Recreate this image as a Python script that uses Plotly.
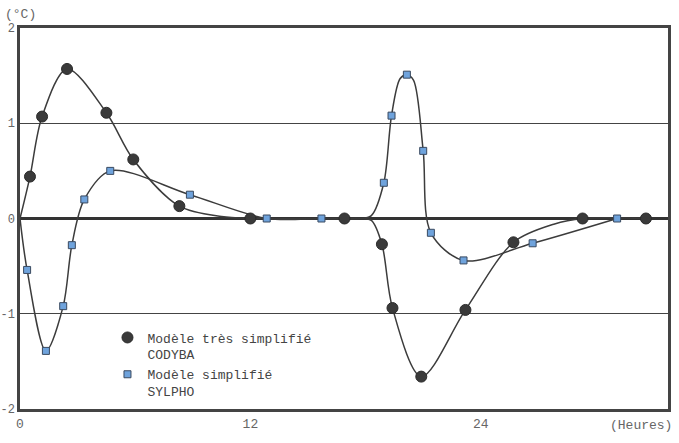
import plotly.graph_objects as go

# Marker points
cody_x = [0.52, 1.15, 2.45, 4.5, 5.9, 8.3, 12.0, 16.9, 18.85, 19.4, 20.9, 23.2, 25.7, 29.3, 32.6]
cody_y = [0.44, 1.07, 1.57, 1.11, 0.62, 0.13, 0.0, 0.0, -0.27, -0.94, -1.66, -0.96, -0.25, 0.0, 0.0]
syl_x = [0.37, 1.35, 2.25, 2.7, 3.35, 4.7, 8.85, 12.85, 15.7, 18.95, 19.35, 20.15, 21.0, 21.4, 23.1, 26.7, 31.1]
syl_y = [-0.54, -1.39, -0.92, -0.28, 0.2, 0.5, 0.25, 0.0, 0.0, 0.375, 1.08, 1.51, 0.71, -0.15, -0.44, -0.26, 0.0]

# Curve knots (markers plus shape points)
cody_cx = [0, 0.52, 1.15, 2.45, 4.5, 5.9, 8.3, 10.5, 12.0, 16.9, 17.8, 18.3, 18.85, 19.4, 20.9, 23.2, 25.7, 27.8, 29.3, 32.6]
cody_cy = [0, 0.44, 1.07, 1.57, 1.11, 0.62, 0.13, 0.02, 0.0, 0.0, 0.0, -0.02, -0.27, -0.94, -1.66, -0.96, -0.25, -0.06, 0.0, 0.0]
syl_cx = [0, 0.37, 1.35, 2.25, 2.7, 3.35, 4.7, 8.85, 12.85, 15.7, 17.8, 18.3, 18.95, 19.35, 19.8, 20.15, 20.5, 21.0, 21.4, 23.1, 26.7, 31.1]
syl_cy = [0, -0.54, -1.39, -0.92, -0.28, 0.2, 0.5, 0.25, 0.0, 0.0, 0.0, 0.03, 0.375, 1.08, 1.47, 1.51, 1.45, 0.71, -0.15, -0.44, -0.26, 0.0]

x_ticks = [0, 12, 24]
y_ticks = [-2, -1, 0, 1, 2]
names = ["Modèle très simplifié<br>CODYBA", "Modèle simplifié<br>SYLPHO"]

LINE = "#3c3c3c"
FONT = "Liberation Mono"

fig = go.Figure()
fig.add_trace(go.Scatter(x=cody_cx, y=cody_cy, mode="lines", line=dict(color=LINE, width=1.5, shape="spline", smoothing=0.9),
                         showlegend=False, hoverinfo="skip"))
fig.add_trace(go.Scatter(x=syl_cx, y=syl_cy, mode="lines", line=dict(color=LINE, width=1.5, shape="spline", smoothing=0.9),
                         showlegend=False, hoverinfo="skip"))
fig.add_trace(go.Scatter(x=cody_x, y=cody_y, mode="markers", name=names[0],
                         marker=dict(symbol="circle", size=11, color="#3a3a3a", line=dict(color="#2a2a2a", width=1))))
fig.add_trace(go.Scatter(x=syl_x, y=syl_y, mode="markers", name=names[1],
                         marker=dict(symbol="square", size=7, color="#6fa3dc", line=dict(color="#3a4a60", width=1))))

fig.update_layout(
    width=679, height=443,
    margin=dict(l=20, r=11, t=28, b=34),
    paper_bgcolor="white", plot_bgcolor="white",
    font=dict(family=FONT, size=13, color="#555"),
    showlegend=True,
    legend=dict(x=0.135, y=0.227, xanchor="left", yanchor="top", bgcolor="rgba(0,0,0,0)",
                font=dict(family=FONT, size=13, color="#444"), valign="top",
                tracegroupgap=4, itemsizing="trace"),
    xaxis=dict(range=[0, 33.75], tickvals=x_ticks, ticktext=[str(v) for v in x_ticks],
               showgrid=False, zeroline=False, showline=True, mirror=True, automargin=False,
               linecolor="#444", linewidth=2.5, ticks="", ticklabelstandoff=1,
               tickfont=dict(family=FONT, size=13, color="#666")),
    yaxis=dict(range=[-2, 2], tickvals=y_ticks, ticktext=[str(v) for v in y_ticks],
               showgrid=True, gridcolor="#444", gridwidth=1.3, automargin=False,
               zeroline=True, zerolinecolor="#333", zerolinewidth=2.5,
               showline=True, mirror=True, linecolor="#444", linewidth=2.5, ticks="",
               ticklabelstandoff=0, tickfont=dict(family=FONT, size=12, color="#666")),
    annotations=[
        dict(text="(°C)", xref="paper", yref="paper", x=-0.027, y=1.0, yshift=14,
             xanchor="left", yanchor="middle", showarrow=False,
             font=dict(family=FONT, size=13, color="#666")),
        dict(text="(Heures)", xref="paper", yref="paper", x=1.0, y=0, yshift=-16, xshift=6,
             xanchor="right", yanchor="middle", showarrow=False,
             font=dict(family=FONT, size=13, color="#666")),
    ],
)

fig.write_html("out.html", config={"displayModeBar": False},
               post_script="document.body.style.margin='0';")
